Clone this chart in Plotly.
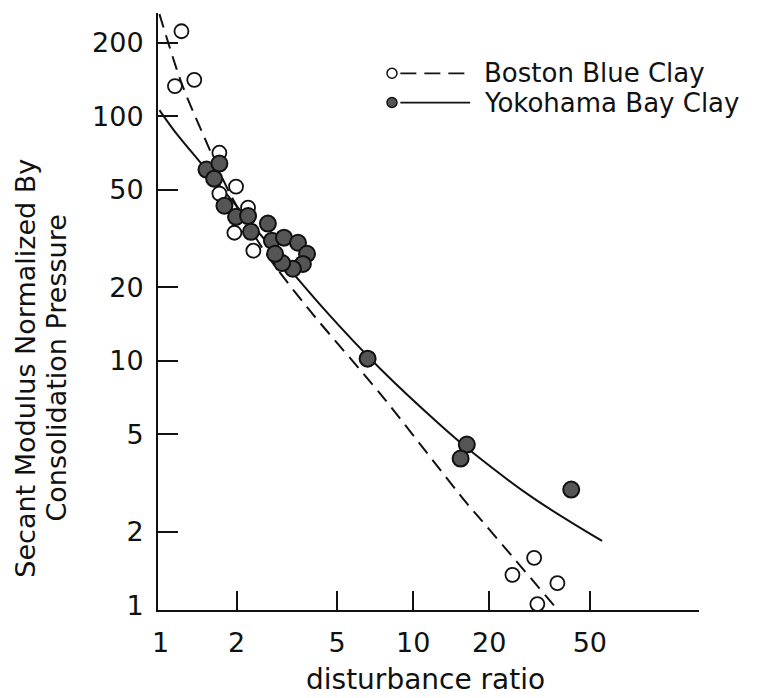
import plotly.graph_objects as go

# ---------------- data ----------------
boston_x = [1.21, 1.14, 1.36, 1.71, 1.99, 1.71, 2.22, 1.96, 2.33, 30.1, 24.7, 37.2, 31.0]
boston_y = [223, 133, 141, 71, 51.6, 48.3, 42.3, 33.4, 28.2, 1.56, 1.33, 1.23, 1.01]

yoko_x = [1.52, 1.71, 1.63, 1.79, 1.99, 2.22, 2.28, 2.66,
          2.76, 3.08, 3.50, 3.80, 3.66, 3.34, 3.03, 2.84,
          6.6, 16.3, 15.4, 42.2]
yoko_y = [60.6, 64.1, 55.6, 43.1, 38.8, 39.1, 33.7, 36.4,
          31.0, 31.9, 30.4, 27.4, 24.9, 23.8, 25.1, 27.4,
          10.2, 4.54, 3.98, 2.97]

boston_fit_x = [0.99, 1.21, 1.45, 1.90, 2.62, 3.83, 7.44, 16.1, 19.3, 38.2]
boston_fit_y = [262, 137, 87.6, 47.4, 27.4, 16.4, 7.28, 2.65, 2.13, 0.93]

yoko_fit_x = [0.99, 1.13, 1.45, 4.43, 7.44, 12.8, 16.9, 29.9, 55.9]
yoko_fit_y = [106, 87.7, 64.1, 16.3, 9.23, 5.46, 4.27, 2.74, 1.83]

tick_vals = [1, 2, 5, 10, 20, 50, 100, 200]
tick_text = ["1", "2", "5", "10", "20", "50", "100", "200"]
x_tick_vals = [1, 2, 5, 10, 20, 50]
x_tick_text = ["1", "2", "5", "10", "20", "50"]

series_names = ["Boston Blue Clay", "Yokohama Bay Clay"]
x_title = "disturbance ratio"
y_title_lines = ["Secant Modulus Normalized By", "Consolidation Pressure"]

FONT = "DejaVu Sans"
INK = "#111111"
FILL = "#555555"

fig = go.Figure()

fig.add_trace(go.Scatter(x=boston_fit_x, y=boston_fit_y, mode="lines",
                         line=dict(color=INK, width=2, dash="14px,8px", shape="spline", smoothing=0.8),
                         showlegend=False, hoverinfo="skip"))
fig.add_trace(go.Scatter(x=yoko_fit_x, y=yoko_fit_y, mode="lines",
                         line=dict(color=INK, width=2, shape="spline", smoothing=1.0),
                         showlegend=False, hoverinfo="skip"))
fig.add_trace(go.Scatter(x=boston_x, y=boston_y, mode="markers", name=series_names[0],
                         marker=dict(symbol="circle", size=14, color="white",
                                     line=dict(color=INK, width=1.8)),
                         showlegend=False))
fig.add_trace(go.Scatter(x=yoko_x, y=yoko_y, mode="markers", name=series_names[1],
                         marker=dict(symbol="circle", size=16, color=FILL,
                                     line=dict(color=INK, width=2)),
                         showlegend=False))

# ---------------- manual legend ----------------
leg_rows = [0.899, 0.850]
mk_x = 0.4325
ln_x0, ln_x1 = 0.448, 0.577
txt_x = 0.598
shapes = []
annotations = []
for i, name in enumerate(series_names):
    yy = leg_rows[i]
    shapes.append(dict(type="line", xref="paper", yref="paper", x0=ln_x0, x1=ln_x1, y0=yy, y1=yy,
                       line=dict(color=INK, width=1.8, dash="16px,8px" if i == 0 else "solid")))
    shapes.append(dict(type="circle", xref="paper", yref="paper", xsizemode="pixel", ysizemode="pixel",
                       xanchor=mk_x, yanchor=yy, x0=-5, x1=5, y0=-5, y1=5,
                       fillcolor="white" if i == 0 else FILL,
                       line=dict(color=INK, width=1.5)))
    annotations.append(dict(text=name, xref="paper", yref="paper", x=txt_x, y=yy,
                            xanchor="left", yanchor="middle", showarrow=False,
                            font=dict(family=FONT, size=26, color=INK)))

for j, (line_txt, px) in enumerate(zip(y_title_lines, [-0.245, -0.188])):
    annotations.append(dict(text=line_txt, xref="paper", yref="paper", x=px, y=0.405,
                            xanchor="center", yanchor="middle", textangle=-90, showarrow=False,
                            font=dict(family=FONT, size=27, color=INK)))
annotations.append(dict(text=x_title, xref="paper", yref="paper", x=0.494, y=-0.117,
                        xanchor="center", yanchor="middle", showarrow=False,
                        font=dict(family=FONT, size=28, color=INK)))

fig.update_layout(
    width=769, height=698,
    margin=dict(l=158, r=70, t=13, b=88),
    paper_bgcolor="white", plot_bgcolor="white",
    shapes=shapes, annotations=annotations,
    showlegend=False,
)
fig.update_xaxes(type="log", range=[-0.01, 2.131], showgrid=False, zeroline=False,
                 showline=True, linecolor=INK, linewidth=2,
                 tickmode="array", tickvals=x_tick_vals, ticktext=x_tick_text, ticks="",
                 ticklabelstandoff=8,
                 tickfont=dict(family=FONT, size=27, color=INK),
                 minor=dict(tickmode="array", tickvals=x_tick_vals[1:], ticks="inside",
                            ticklen=19, tickwidth=1.6, tickcolor=INK, showgrid=False))
fig.update_yaxes(type="log", range=[-0.02, 2.423], showgrid=False, zeroline=False,
                 showline=True, linecolor=INK, linewidth=2,
                 tickmode="array", tickvals=tick_vals, ticktext=tick_text, ticks="",
                 ticklabelstandoff=7,
                 tickfont=dict(family=FONT, size=27, color=INK),
                 minor=dict(tickmode="array", tickvals=tick_vals[1:], ticks="inside",
                            ticklen=20, tickwidth=1.6, tickcolor=INK, showgrid=False))

fig.write_html("out.html")
